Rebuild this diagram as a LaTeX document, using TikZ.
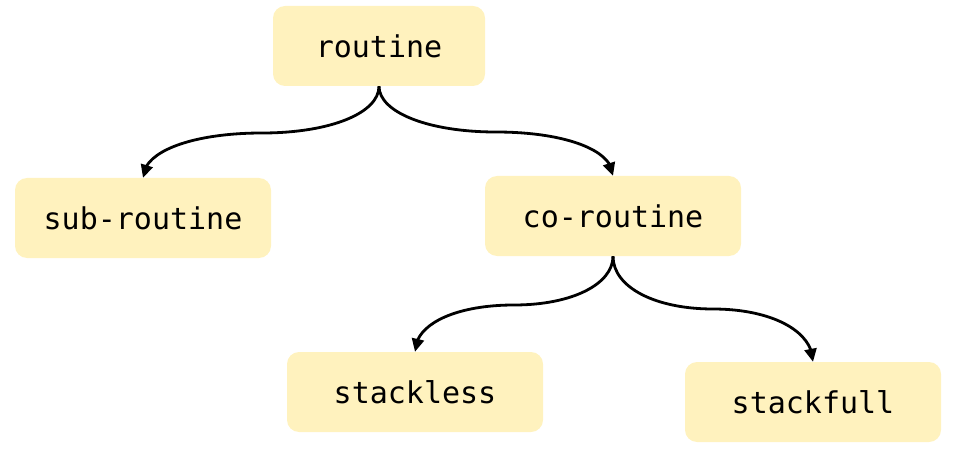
\documentclass[tikz,border=0pt]{standalone}
\usepackage{fontspec}
\setmonofont{DejaVu Sans Mono}
\usetikzlibrary{arrows.meta,bending}
\definecolor{boxfill}{HTML}{FFF2BE}
\tikzset{
  box/.style={rectangle, rounded corners=12pt, fill=boxfill, draw=none,
    minimum width=256pt, minimum height=80pt, inner sep=0pt,
    font=\fontsize{30}{35}\selectfont\ttfamily},
  conn/.style={line width=2.8pt, -{Triangle[length=13pt,width=12pt,flex]}}
}
\begin{document}
\begin{tikzpicture}[x=1pt,y=-1pt]
\useasboundingbox (0,0) rectangle (960,454);
\node[box, minimum width=212pt] (routine) at (379,46) {routine};
\node[box] (sub) at (143,218) {sub-routine};
\node[box] (co) at (613,216) {co-routine};
\node[box] (sl) at (415,392) {stackless};
\node[box] (sf) at (813,402) {stackfull};
\coordinate (m1) at (262,133);
\coordinate (m2) at (496,132);
\coordinate (m3) at (514,305);
\coordinate (m4) at (713,309);
\draw[conn] (routine.south) .. controls +(0,27) and +(68,0) .. (m1)
  .. controls +(-68,0) and +(0,-27) .. (sub.north);
\draw[conn] (routine.south) .. controls +(0,26) and +(-68,0) .. (m2)
  .. controls +(68,0) and +(0,-26) .. (co.north);
\draw[conn] (co.south) .. controls +(0,28) and +(58,0) .. (m3)
  .. controls +(-58,0) and +(0,-28) .. (sl.north);
\draw[conn] (co.south) .. controls +(0,31) and +(-58,0) .. (m4)
  .. controls +(58,0) and +(0,-31) .. (sf.north);
\end{tikzpicture}
\end{document}
